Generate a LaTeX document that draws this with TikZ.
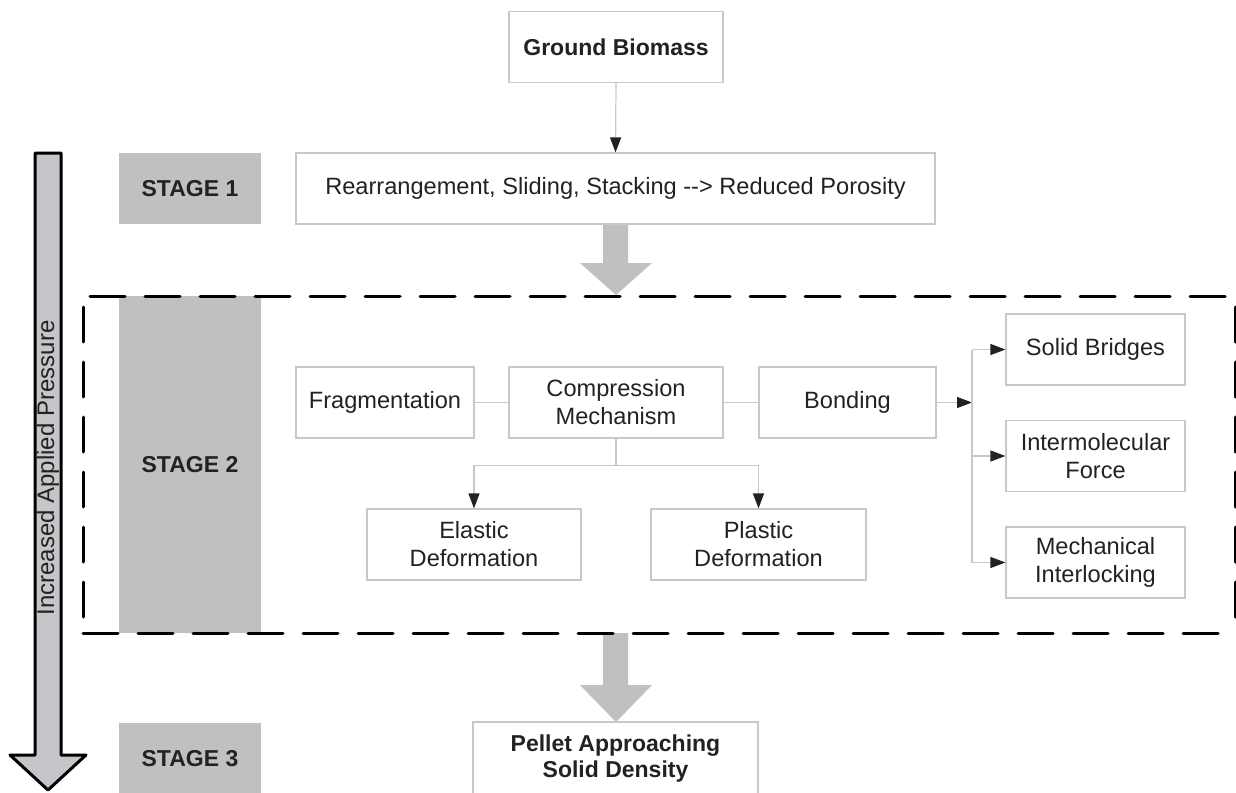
\documentclass[tikz,border=0pt]{standalone}
\usepackage{fontspec}
\setmainfont{Liberation Sans}
\usetikzlibrary{arrows.meta}
\definecolor{stagegray}{RGB}{192,192,195}
\definecolor{boxline}{RGB}{200,200,200}
\definecolor{txtdark}{RGB}{34,34,34}
\definecolor{shaftgray}{RGB}{198,198,202}
\tikzset{
  box/.style={draw=boxline, line width=0.6pt, fill=white, align=center, text=txtdark,
    inner sep=2pt, minimum height=35.5pt, font=\fontsize{11.8}{14}\selectfont},
  stagebox/.style={fill=stagegray, text=txtdark, minimum width=71pt,
    font=\fontsize{11.5}{14}\selectfont\bfseries},
  link/.style={draw=boxline, line width=0.6pt},
  linkarrow/.style={link, -{Triangle[length=7.5pt, width=5.5pt, color=txtdark]}},
}
\begin{document}
\begin{tikzpicture}[x=0.5pt,y=0.5pt,yscale=-1,xscale=1]
\useasboundingbox (0,0) rectangle (1236,792);

%Shape: Big Arrow (increased pressure)
\draw [line width=1.5pt, fill=shaftgray, line join=round] (35,153) -- (61,153) -- (61,755) -- (86,755) -- (48,790) -- (10,755) -- (35,755) -- cycle ;
% Text Node
\node [rotate=90, text=txtdark, font=\fontsize{12}{14}\selectfont] (press) at (48,468) {Increased Applied Pressure};

% Stage labels
\node [stagebox, minimum height=35.5pt] (st1) at (190,188.5) {STAGE 1};
\node [stagebox, minimum height=168.5pt] (st2) at (190,464.5) {STAGE 2};
\node [stagebox, minimum height=36pt] (st3) at (190,759) {STAGE 3};

%Shape: Block Arrows
\fill [stagegray] (603,224) -- (628,224) -- (628,263) -- (652,263) -- (616,295) -- (580,263) -- (603,263) -- cycle ;
\fill [stagegray] (603,633) -- (628,633) -- (628,685) -- (652,685) -- (616,722) -- (580,685) -- (603,685) -- cycle ;

%Shape: Dashed frame
\draw [line width=1.5pt, line cap=round, dash pattern={on 17.5pt off 10pt}] (90,296) -- (1236,296) ;
\draw [line width=1.5pt, line cap=round, dash pattern={on 17.5pt off 10pt}] (83,307) -- (83,626) ;
\draw [line width=1.5pt, line cap=round, dash pattern={on 17.5pt off 10pt}] (83,633) -- (1236,633) ;
\draw [line width=1.5pt, line cap=round, dash pattern={on 17.5pt off 10pt}] (1235,307) -- (1235,626) ;

% Text Node
\node [box, minimum width=107pt, font=\fontsize{11.5}{14}\selectfont\bfseries] (gb) at (616,47) {Ground Biomass};
% Text Node
\node [box, minimum width=319.5pt] (s1) at (615.5,188.5) {Rearrangement, Sliding, Stacking -{}-{}> Reduced Porosity};
% Text Node
\node [box, minimum width=89pt] (frag) at (385,402.5) {Fragmentation};
% Text Node
\node [box, minimum width=107pt] (comp) at (616,402.5) {Compression\\Mechanism};
% Text Node
\node [box, minimum width=88.5pt] (bond) at (847.5,402.5) {Bonding};
% Text Node
\node [box, minimum width=107pt] (elas) at (474,544.5) {Elastic\\Deformation};
% Text Node
\node [box, minimum width=107.5pt] (plas) at (758.5,544.5) {Plastic\\Deformation};
% Text Node
\node [box, minimum width=89.5pt] (sb) at (1095.5,349.5) {Solid Bridges};
% Text Node
\node [box, minimum width=89.5pt] (imf) at (1095.5,456) {Intermolecular\\Force};
% Text Node
\node [box, minimum width=89.5pt] (mi) at (1095.5,562.5) {Mechanical\\Interlocking};
% Text Node
\node [box, minimum width=142.5pt, minimum height=37pt, font=\fontsize{11.5}{13}\selectfont\bfseries] (pel) at (615.5,759) {Pellet Approaching\\Solid Density};

%Connectors
\draw [linkarrow] (gb.south) -- (s1.north) ;
\draw [link] (frag.east) -- (comp.west) ;
\draw [link] (comp.east) -- (bond.west) ;
\draw [linkarrow] (comp.south) -- ++(0,27) -| (elas.north) ;
\draw [linkarrow] (comp.south) -- ++(0,27) -| (plas.north) ;
\coordinate (split) at (972,402.5) ;
\draw [linkarrow] (bond.east) -- (split) ;
\draw [link] (split |- sb.west) -- (split |- mi.west) ;
\draw [linkarrow] (split |- sb.west) -- (sb.west) ;
\draw [linkarrow] (split |- imf.west) -- (imf.west) ;
\draw [linkarrow] (split |- mi.west) -- (mi.west) ;

\end{tikzpicture}
\end{document}
